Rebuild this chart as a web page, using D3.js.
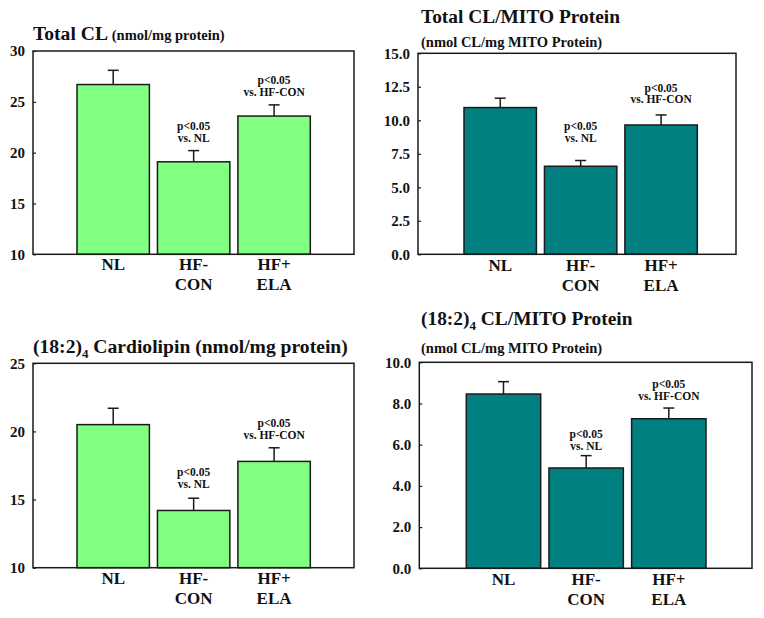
<!DOCTYPE html>
<html><head><meta charset="utf-8">
<script src="https://cdn.jsdelivr.net/npm/d3@7"></script>
<style>
html,body{margin:0;padding:0;background:#fff;}
svg{display:block;font-family:"Liberation Serif","Times New Roman",serif;font-weight:bold;}
</style></head>
<body>
<svg id="chart" width="764" height="618"></svg>
<script>
// ---- data ----
const categories = [["NL"], ["HF-", "CON"], ["HF+", "ELA"]];

const totalCL      = [26.7, 19.1, 23.6];
const totalCLErr   = [1.4, 1.1, 1.1];
const totalMito    = [10.95, 6.57, 9.65];
const totalMitoErr = [0.7, 0.43, 0.75];
const linoCL       = [20.5, 14.2, 17.8];
const linoCLErr    = [1.2, 0.9, 1.0];
const linoMito     = [8.46, 4.87, 7.26];
const linoMitoErr  = [0.6, 0.6, 0.52];

const ticksTotalCL   = [10, 15, 20, 25, 30];
const ticksTotalMito = [0, 2.5, 5, 7.5, 10, 12.5, 15];
const ticksLinoCL    = [10, 15, 20, 25];
const ticksLinoMito  = [0, 2, 4, 6, 8, 10];

const annotations = [null, ["p<0.05", "vs. NL"], ["p<0.05", "vs. HF-CON"]];

// ---- layout ----
const GREEN = "#80ff80", TEAL = "#008080", STROKE = "#1a1a1a";

const panels = [
  { values: totalCL, errs: totalCLErr, ticks: ticksTotalCL, fmt: d3.format("d"),
    color: GREEN, box: [33, 354, 51, 254.3], bars: [77, 310.3],
    annOff: [0, 9, 9.3], catY: 16 },
  { values: totalMito, errs: totalMitoErr, ticks: ticksTotalMito, fmt: d3.format(".1f"),
    color: TEAL, box: [418, 736, 53.3, 254.3], bars: [464, 697.3],
    annOff: [0, 19, 11.7], catY: 16.3 },
  { values: linoCL, errs: linoCLErr, ticks: ticksLinoCL, fmt: d3.format("d"),
    color: GREEN, box: [33, 354, 363.3, 567.7], bars: [77, 310.3],
    annOff: [0, 10.4, 9], catY: 15.8 },
  { values: linoMito, errs: linoMitoErr, ticks: ticksLinoMito, fmt: d3.format(".1f"),
    color: TEAL, box: [419.3, 752, 362.3, 568.3], bars: [466.3, 706],
    annOff: [0, 5.7, 8], catY: 16.7 }
];

const svg = d3.select("#chart");

panels.forEach(p => {
  const [x0, x1, y0, y1] = p.box;
  const g = svg.append("g");
  const y = d3.scaleLinear()
    .domain([p.ticks[0], p.ticks[p.ticks.length - 1]])
    .range([y1, y0]);
  const x = d3.scaleBand()
    .domain(categories.map((c, i) => i))
    .range(p.bars)
    .paddingInner(0.1)
    .paddingOuter(0);

  // axis labels + small inward ticks
  const ax = g.append("g")
    .attr("transform", `translate(${x0},0)`)
    .call(d3.axisLeft(y).tickValues(p.ticks).tickFormat(p.fmt).tickSize(-3).tickPadding(8));
  ax.select(".domain").remove();
  ax.selectAll(".tick line").attr("stroke", STROKE).attr("stroke-width", 1.2);
  ax.selectAll("text")
    .attr("font-family", "'Liberation Serif','Times New Roman',serif")
    .attr("font-weight", "bold")
    .attr("font-size", 15)
    .attr("fill", "#111");

  // bars
  g.selectAll("rect.bar").data(p.values).join("rect")
    .attr("class", "bar")
    .attr("x", (d, i) => x(i))
    .attr("width", x.bandwidth())
    .attr("y", d => y(d))
    .attr("height", d => y1 - y(d))
    .attr("fill", p.color)
    .attr("stroke", STROKE)
    .attr("stroke-width", 1.5);

  // error bars
  p.values.forEach((v, i) => {
    const cx = x(i) + x.bandwidth() / 2;
    const top = y(v + p.errs[i]);
    g.append("line").attr("x1", cx).attr("x2", cx)
      .attr("y1", y(v)).attr("y2", top)
      .attr("stroke", STROKE).attr("stroke-width", 1.5);
    g.append("line").attr("x1", cx - 5.5).attr("x2", cx + 5.5)
      .attr("y1", top).attr("y2", top)
      .attr("stroke", STROKE).attr("stroke-width", 1.5);
    const ann = annotations[i];
    if (ann) {
      const base = top - p.annOff[i];
      g.append("text").attr("x", cx).attr("y", base - 11.7)
        .attr("text-anchor", "middle").attr("font-size", 11.5).attr("fill", "#111")
        .text(ann[0]);
      g.append("text").attr("x", cx).attr("y", base)
        .attr("text-anchor", "middle").attr("font-size", 11.5).attr("fill", "#111")
        .text(ann[1]);
    }
    // category labels
    categories[i].forEach((line, k) => {
      g.append("text").attr("x", cx).attr("y", y1 + p.catY + k * 20)
        .attr("text-anchor", "middle").attr("font-size", 17).attr("fill", "#111")
        .text(line);
    });
  });

  // frame
  g.append("rect")
    .attr("x", x0).attr("y", y0)
    .attr("width", x1 - x0).attr("height", y1 - y0)
    .attr("fill", "none").attr("stroke", STROKE).attr("stroke-width", 1.5);
});

// ---- titles ----
function title(x, yy, size) {
  return svg.append("text").attr("x", x).attr("y", yy)
    .attr("font-size", size).attr("fill", "#111");
}
// Panel 1
const t1 = title(33, 40, 19.6);
t1.append("tspan").text("Total CL ");
t1.append("tspan").attr("font-size", 14.5).text("(nmol/mg protein)");
// Panel 2
title(421, 23.3, 19.4).text("Total CL/MITO Protein");
title(421, 46.7, 14.5).text("(nmol CL/mg MITO Protein)");
// Panel 3
const t3 = title(33, 353.3, 19.6);
t3.append("tspan").text("(18:2)");
t3.append("tspan").attr("font-size", 13).attr("dy", 5).text("4");
t3.append("tspan").attr("dy", -5).text(" Cardiolipin (nmol/mg protein)");
// Panel 4
const t4 = title(421, 325, 19.4);
t4.append("tspan").text("(18:2)");
t4.append("tspan").attr("font-size", 13).attr("dy", 5).text("4");
t4.append("tspan").attr("dy", -5).text(" CL/MITO Protein");
title(421, 353.3, 14.5).text("(nmol CL/mg MITO Protein)");
</script>
</body></html>
